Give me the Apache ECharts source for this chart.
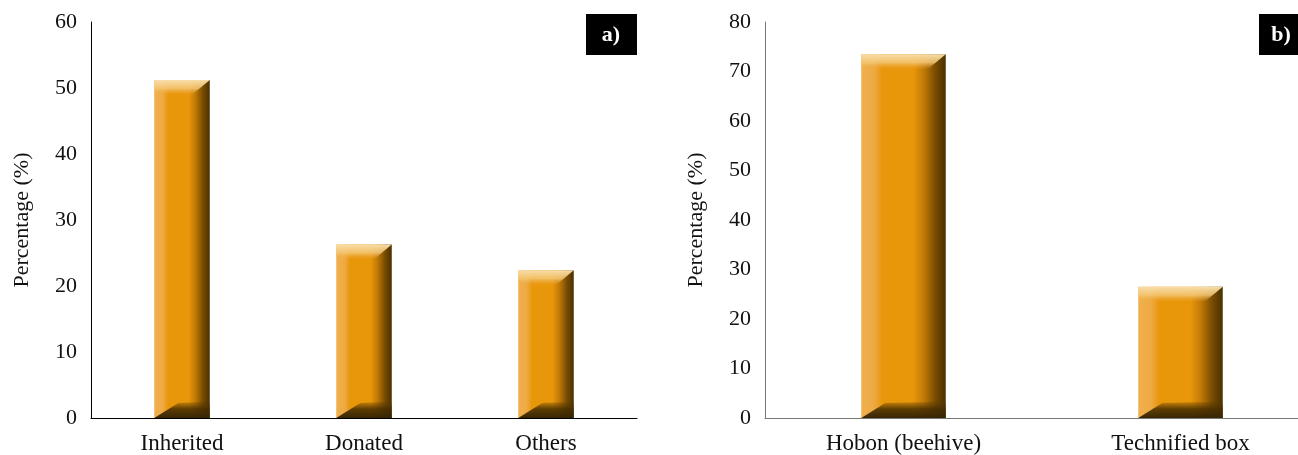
<!DOCTYPE html>
<html>
<head>
<meta charset="utf-8">
<script src="https://cdn.jsdelivr.net/npm/echarts@6/dist/echarts.min.js"></script>
<style>
html,body{margin:0;padding:0;background:#fff;overflow:hidden;width:1298px;height:455px;}
#c{width:1320px;height:455px;}
</style>
</head>
<body>
<div id="c"></div>
<script>
const catsA = ['Inherited', 'Donated', 'Others'];
const valsA = [51.2, 26.3, 22.4];
const catsB = ['Hobon (beehive)', 'Technified box'];
const valsB = [73.5, 26.5];
const ticksA = {min: 0, max: 60, interval: 10};
const ticksB = {min: 0, max: 80, interval: 10};

const FONT = "'Liberation Serif', 'DejaVu Serif', serif";
const chart = echarts.init(document.getElementById('c'));

function renderBar(params, api) {
  const cat = api.value(0);
  const val = api.value(1);
  const top = api.coord([cat, val]);
  const base = api.coord([cat, 0]);
  const w = api.size([1, 0])[0] * 0.305;
  const x0 = top[0] - w / 2, x1 = top[0] + w / 2;
  const y0 = top[1], y1 = base[1];
  const h = y1 - y0;
  const b = Math.min(15, h / 3);
  return {
    type: 'group',
    children: [
      {
        type: 'rect',
        shape: {x: x0, y: y0, width: w, height: h},
        style: {
          fill: new echarts.graphic.LinearGradient(0, 0, 1, 0, [
            {offset: 0, color: '#F0B04E'},
            {offset: 0.15, color: '#EEAA44'},
            {offset: 0.25, color: '#E8960A'},
            {offset: 0.62, color: '#E8960A'},
            {offset: 0.74, color: '#C27A06'},
            {offset: 0.87, color: '#7A4E02'},
            {offset: 1, color: '#4A3000'}
          ])
        }
      },
      {
        type: 'polygon',
        shape: {points: [[x0, y0], [x1, y0], [x1 - b * 1.2, y0 + b], [x0, y0 + b]]},
        style: {
          fill: new echarts.graphic.LinearGradient(0, 0, 0, 1, [
            {offset: 0, color: 'rgba(248,222,170,1)'},
            {offset: 0.55, color: 'rgba(244,200,120,0.85)'},
            {offset: 1, color: 'rgba(238,170,60,0)'}
          ])
        }
      },
      {
        type: 'polygon',
        shape: {points: [[x0, y1], [x1, y1], [x1, y1 - b * 1.1], [x0 + b * 1.6, y1 - b]]},
        style: {
          fill: new echarts.graphic.LinearGradient(0, 0, 0, 1, [
            {offset: 0, color: 'rgba(90,60,5,0.2)'},
            {offset: 0.45, color: 'rgba(70,45,0,0.85)'},
            {offset: 1, color: 'rgba(55,38,5,1)'}
          ])
        }
      }
    ]
  };
}

function yAxisCfg(idx, t, lineColor) {
  return {
    type: 'value', gridIndex: idx, min: t.min, max: t.max, interval: t.interval,
    name: 'Percentage (%)', nameLocation: 'middle', nameGap: 58, nameRotate: 90,
    nameTextStyle: {fontFamily: FONT, fontSize: 22, color: '#111'},
    axisLine: {show: true, lineStyle: {color: lineColor, width: 1}},
    axisTick: {show: false},
    splitLine: {show: false},
    axisLabel: {fontFamily: FONT, fontSize: 22, color: '#111', margin: 14}
  };
}
function xAxisCfg(idx, cats, lineColor) {
  return {
    type: 'category', gridIndex: idx, data: cats,
    axisLine: {show: true, lineStyle: {color: lineColor, width: 1}},
    axisTick: {show: false},
    axisLabel: {fontFamily: FONT, fontSize: 23, color: '#111', margin: 14}
  };
}

chart.setOption({
  animation: false,
  grid: [
    {left: 91, top: 22, width: 546, height: 397},
    {left: 765, top: 22, width: 554, height: 397}
  ],
  xAxis: [xAxisCfg(0, catsA, '#000'), xAxisCfg(1, catsB, '#777')],
  yAxis: [yAxisCfg(0, ticksA, '#000'), yAxisCfg(1, ticksB, '#777')],
  series: [
    {type: 'custom', xAxisIndex: 0, yAxisIndex: 0, renderItem: renderBar,
     data: valsA.map((v, i) => [i, v])},
    {type: 'custom', xAxisIndex: 1, yAxisIndex: 1, renderItem: renderBar,
     data: valsB.map((v, i) => [i, v])}
  ],
  graphic: [
    {type: 'rect', left: 586, top: 14, shape: {width: 51, height: 41}, style: {fill: '#000'}},
    {type: 'text', x: 611, y: 35, style: {text: 'a)', fill: '#fff', font: "bold 22px " + FONT, align: 'center', verticalAlign: 'middle'}},
    {type: 'rect', left: 1259, top: 14, shape: {width: 39, height: 41}, style: {fill: '#000'}},
    {type: 'text', x: 1281, y: 35, style: {text: 'b)', fill: '#fff', font: "bold 22px " + FONT, align: 'center', verticalAlign: 'middle'}}
  ]
});
</script>
</body>
</html>
